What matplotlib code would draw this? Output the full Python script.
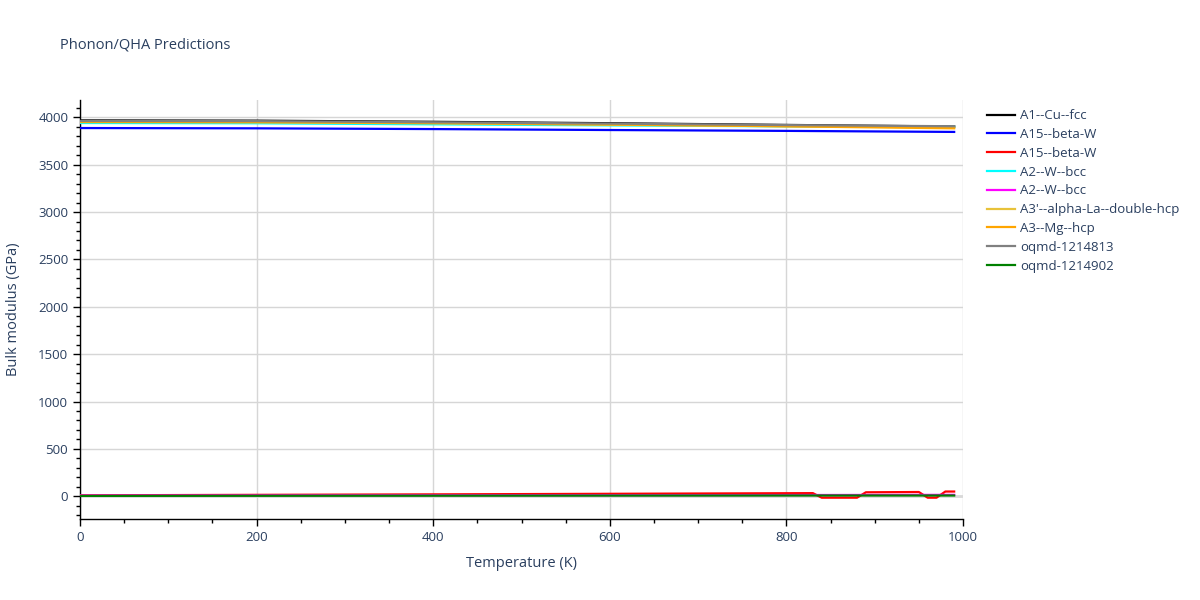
import numpy as np
import matplotlib.pyplot as plt
from matplotlib.ticker import MultipleLocator

# temperatures (K)
temps = [0, 200, 400, 600, 800, 990]
temps_red = [0, 200, 400, 600, 830, 840, 880, 890, 950, 960, 970, 980, 990]

# bulk modulus (GPa)
a1_cu_fcc = [3968, 3965, 3953, 3938, 3920, 3903]
a15_beta_w_1 = [3887, 3884, 3876, 3866, 3857, 3846]
a15_beta_w_2 = [10, 15, 20, 26, 33, -15, -15, 42, 45, -15, -15, 50, 50]
a2_w_bcc_1 = [3940, 3937, 3926, 3915, 3905, 3900]
a2_w_bcc_2 = [8, 9, 10, 11, 13, 15]
a3p_alpha_la = [3950, 3947, 3937, 3922, 3906, 3893]
a3_mg_hcp = [3953, 3950, 3940, 3925, 3905, 3884]
oqmd_1214813 = [3962, 3960, 3948, 3934, 3918, 3906]
oqmd_1214902 = [4, 5, 6, 7, 8, 8]

series = [
    ("A1--Cu--fcc", temps, a1_cu_fcc, "black"),
    ("A15--beta-W", temps, a15_beta_w_1, "blue"),
    ("A15--beta-W", temps_red, a15_beta_w_2, "red"),
    ("A2--W--bcc", temps, a2_w_bcc_1, "cyan"),
    ("A2--W--bcc", temps, a2_w_bcc_2, "magenta"),
    ("A3'--alpha-La--double-hcp", temps, a3p_alpha_la, "#e8c23a"),
    ("A3--Mg--hcp", temps, a3_mg_hcp, "orange"),
    ("oqmd-1214813", temps, oqmd_1214813, "gray"),
    ("oqmd-1214902", temps, oqmd_1214902, "green"),
]

txt = "#2a3f5f"
plt.rcParams['font.family'] = ['Open Sans', 'DejaVu Sans']

fig = plt.figure(figsize=(12, 6), dpi=100)
ax = fig.add_axes([80/1200, 1 - 519/600, (963 - 80)/1200, (519 - 100)/600])

ax.axhline(0, color="#d9d9d9", lw=2, zorder=1)
for name, t, v, c in series:
    ax.plot(t, v, color=c, lw=1.6, label=name, zorder=3)

ax.set_xlim(0, 1000)
ax.set_ylim(-240, 4183)
ax.xaxis.set_major_locator(MultipleLocator(200))
ax.xaxis.set_minor_locator(MultipleLocator(50))
ax.yaxis.set_major_locator(MultipleLocator(500))
ax.yaxis.set_minor_locator(MultipleLocator(100))
ax.grid(True, which="major", color="#d6d6d6", lw=1, zorder=0)
ax.set_axisbelow(True)

for s in ["top", "right"]:
    ax.spines[s].set_visible(False)
for s in ["left", "bottom"]:
    ax.spines[s].set_color("black")
    ax.spines[s].set_linewidth(1)

ax.tick_params(which="major", direction="out", length=5, width=1, colors="black",
               labelcolor=txt, labelsize=9.5)
ax.tick_params(which="minor", direction="out", length=3, width=1, colors="black")

ax.set_xlabel("Temperature (K)", color=txt, fontsize=10.5, labelpad=9)
ax.set_ylabel("Bulk modulus (GPa)", color=txt, fontsize=10.5, labelpad=12)
fig.text(60/1200, 1 - 45/600, "Phonon/QHA Predictions", color=txt, fontsize=10.5,
         va="center", ha="left")

leg = ax.legend(loc="upper left", bbox_to_anchor=(978/883 - 80/883, 1.0),
                frameon=False, fontsize=9.5, handlelength=2.1, handletextpad=0.4,
                labelspacing=0.44, borderaxespad=0.3)
for t in leg.get_texts():
    t.set_color(txt)

fig.savefig("out.png", dpi=100)
